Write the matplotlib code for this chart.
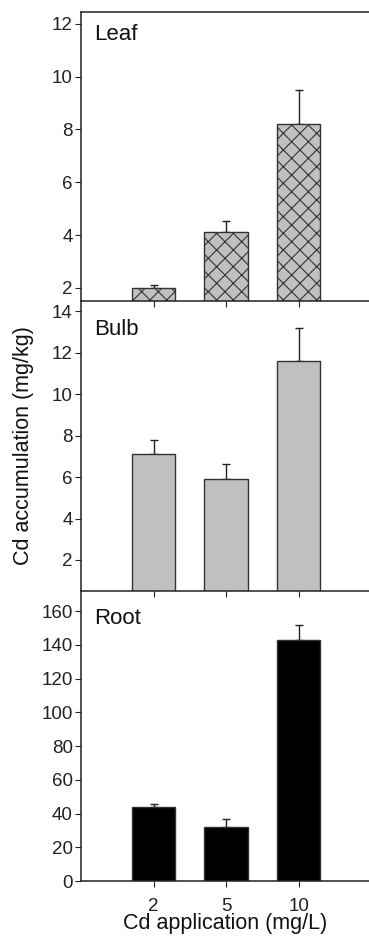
import matplotlib
matplotlib.use("Agg")
import matplotlib.pyplot as plt

plt.rcParams['font.family'] = ['Liberation Sans', 'DejaVu Sans']
plt.rcParams['hatch.linewidth'] = 0.8

# data
doses = ['2', '5', '10']
leaf = [2.0, 4.1, 8.2]
leaf_err = [0.1, 0.42, 1.28]
bulb = [7.1, 5.93, 11.6]
bulb_err = [0.7, 0.68, 1.6]
root = [44.0, 32.2, 143.0]
root_err = [1.6, 4.6, 8.9]

fig = plt.figure(figsize=(3.69, 9.36), dpi=100)
W, H = 369, 936
left, right = 81 / W, 1.0

def make_ax(top_px, bot_px):
    return fig.add_axes([left, 1 - bot_px / H, right - left, (bot_px - top_px) / H])

ax1 = make_ax(12, 301)
ax2 = make_ax(301, 591)
ax3 = make_ax(591, 881)

panels = [
    (ax1, leaf, leaf_err, '#c0c0c0', 'xx', 'Leaf', 24, (1.5, 12.45), [2, 4, 6, 8, 10, 12]),
    (ax2, bulb, bulb_err, '#c0c0c0', None, 'Bulb', 319, (0.5, 14.5), [2, 4, 6, 8, 10, 12, 14]),
    (ax3, root, root_err, 'black', None, 'Root', 608, (0, 172), [0, 20, 40, 60, 80, 100, 120, 140, 160]),
]

x = list(range(len(doses)))
for ax, vals, errs, color, hatch, name, label_y, ylim, ticks in panels:
    ax.patch.set_facecolor('none')
    ax.bar(x, vals, width=0.6, color=color, edgecolor='#333333', linewidth=1.0,
           hatch=hatch, zorder=2)
    ax.errorbar(x, vals, yerr=[[0] * len(errs), errs], fmt='none', ecolor='#222222',
                elinewidth=1.0, capsize=3, capthick=1.0, zorder=1)
    ax.set_xlim(-1.0, 2.97)
    ax.set_ylim(*ylim)
    ax.set_yticks(ticks)
    ax.set_xticks(x)
    ax.spines['right'].set_visible(False)
    for s in ax.spines.values():
        s.set_linewidth(1.1)
        s.set_color('#222222')
        s.set_zorder(3)
    ax.tick_params(axis='both', direction='out', length=4, width=0.8, labelsize=13.5,
                   colors='#222222', pad=2)
    fig.text(94 / W, 1 - label_y / H, name, fontsize=16, va='top', ha='left',
             color='#111111')
    if ax is not ax3:
        ax.set_xticklabels([])

ax2.spines['top'].set_visible(False)
ax3.spines['top'].set_visible(False)

ax3.set_xticklabels(doses)
ax3.tick_params(axis='x', labelsize=13.5, pad=8)
ax3.set_xlabel('Cd application (mg/L)', fontsize=15.5, labelpad=-1, color='#111111')
ax2.set_ylabel('Cd accumulation (mg/kg)', fontsize=15.5, labelpad=13, color='#111111')

fig.savefig('out.png', dpi=100)
